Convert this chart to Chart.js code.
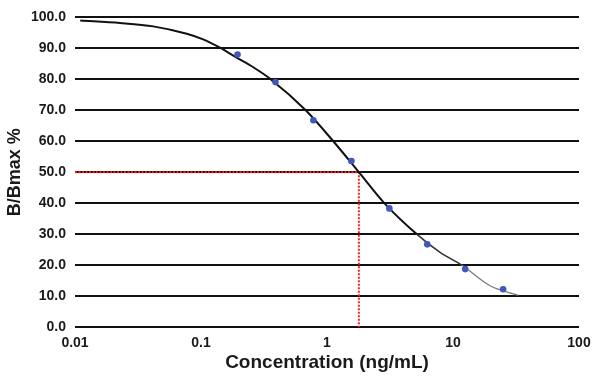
<!DOCTYPE html>
<html>
<head>
<meta charset="utf-8">
<script src="https://cdn.jsdelivr.net/npm/chart.js@4/dist/chart.umd.min.js"></script>
<style>
html,body{margin:0;padding:0;background:#fff;}
#wrap{width:600px;height:380px;}
</style>
</head>
<body>
<div id="wrap"><canvas id="c" width="600" height="380"></canvas></div>
<script>
// Standards (concentration ng/mL) and measured B/Bmax %
const concentrations = [0.195, 0.39, 0.78, 1.5625, 3.125, 6.25, 12.5, 25];
const bBmaxValues = [88.0, 79.1, 66.8, 53.6, 38.3, 26.7, 18.7, 12.2];

// Fitted curve
const curveX = [0.011, 0.0228, 0.0418, 0.0771, 0.104, 0.1415, 0.192, 0.26, 0.353, 0.678, 1.122, 1.79, 2.85, 5.15, 7.9, 11.7, 19.7, 33];
const curveY = [99.0, 98.2, 97.1, 94.7, 92.9, 90.2, 87.0, 83.9, 80.2, 70.0, 60.0, 50.0, 40.0, 30.0, 24.1, 20.0, 13.3, 10.2];

// 50% reference (IC50) guide
const ic50X = [0.01, 1.79, 1.79];
const ic50Y = [50, 50, 0];

// Tick labels
const xTicks = [0.01, 0.1, 1, 10, 100];
const yTicks = [0, 10, 20, 30, 40, 50, 60, 70, 80, 90, 100];

const toPts = (xs, ys) => xs.map((x, i) => ({x: x, y: ys[i]}));
const FONT = "'Liberation Sans', Arial, Helvetica, sans-serif";

new Chart(document.getElementById('c'), {
  type: 'scatter',
  data: {
    datasets: [
      {
        label: 'Standards',
        data: toPts(concentrations, bBmaxValues),
        showLine: false,
        pointRadius: 3.3,
        pointBackgroundColor: '#4257bd',
        pointBorderColor: '#4257bd',
        pointBorderWidth: 0,
        order: 0
      },
      {
        label: 'Fit',
        data: toPts(curveX, curveY),
        showLine: true,
        borderColor: '#111',
        borderWidth: 2,
        pointRadius: 0,
        cubicInterpolationMode: 'monotone',
        segment: {
          borderWidth: ctx => ctx.p0.parsed.x >= 11 ? 1.2 : (ctx.p0.parsed.x >= 5 ? 1.6 : 2),
          borderColor: ctx => ctx.p0.parsed.x >= 11 ? '#777' : (ctx.p0.parsed.x >= 5 ? '#333' : '#111')
        },
        order: 1
      },
      {
        label: 'IC50',
        data: toPts(ic50X, ic50Y),
        showLine: true,
        borderColor: '#ff2020',
        borderWidth: 2,
        borderDash: [2, 1.5],
        pointRadius: 0,
        tension: 0,
        order: 2
      }
    ]
  },
  options: {
    responsive: false,
    animation: false,
    layout: {padding: {left: 0, right: 21, top: 12, bottom: 0}},
    plugins: {legend: {display: false}, tooltip: {enabled: false}},
    scales: {
      x: {
        type: 'logarithmic',
        min: 0.01,
        max: 100,
        afterBuildTicks: s => { s.ticks = xTicks.map(v => ({value: v})); },
        afterFit: s => { s.height = 53; },
        grid: {display: false, drawTicks: false},
        border: {display: false},
        ticks: {
          autoSkip: false,
          maxRotation: 0,
          padding: 8,
          color: '#1a1a1a',
          font: {family: FONT, size: 14, weight: 'bold'},
          callback: v => String(v)
        },
        title: {
          display: true,
          text: 'Concentration (ng/mL)',
          color: '#1a1a1a',
          font: {family: FONT, size: 19, weight: 'bold'},
          padding: {top: 0, bottom: 6}
        }
      },
      y: {
        type: 'linear',
        min: 0,
        max: 100,
        afterBuildTicks: s => { s.ticks = yTicks.map(v => ({value: v})); },
        afterFit: s => { s.width = 75; },
        grid: {color: '#111', lineWidth: 2, drawTicks: false},
        border: {display: false},
        ticks: {
          padding: 9,
          color: '#1a1a1a',
          font: {family: FONT, size: 14, weight: 'bold'},
          callback: v => Number(v).toFixed(1)
        },
        title: {
          display: true,
          text: 'B/Bmax %',
          color: '#1a1a1a',
          font: {family: FONT, size: 18, weight: 'bold'},
          padding: {top: 4, bottom: 0}
        }
      }
    }
  }
});
</script>
</body>
</html>
